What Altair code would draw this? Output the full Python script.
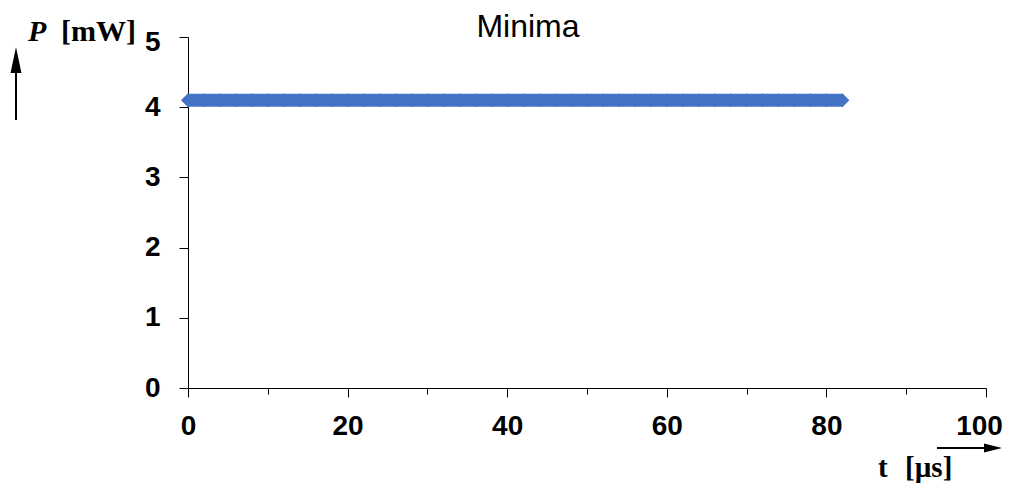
import altair as alt
import pandas as pd

# Data
t_us = [0, 2, 4, 6, 8, 10, 12, 14, 16, 18, 20, 22, 24, 26, 28, 30, 32, 34, 36, 38, 40,
        42, 44, 46, 48, 50, 52, 54, 56, 58, 60, 62, 64, 66, 68, 70, 72, 74, 76, 78, 80, 82]
p_mw = [4.1, 4.1, 4.1, 4.1, 4.1, 4.1, 4.1, 4.1, 4.1, 4.1, 4.1, 4.1, 4.1, 4.1, 4.1, 4.1,
        4.1, 4.1, 4.1, 4.1, 4.1, 4.1, 4.1, 4.1, 4.1, 4.1, 4.1, 4.1, 4.1, 4.1, 4.1, 4.1,
        4.1, 4.1, 4.1, 4.1, 4.1, 4.1, 4.1, 4.1, 4.1, 4.1]
x_ticks = [0, 10, 20, 30, 40, 50, 60, 70, 80, 90, 100]
y_ticks = [0, 0.5, 1, 1.5, 2, 2.5, 3, 3.5, 4, 4.5, 5]
title_text = "Minima"

df = pd.DataFrame({"t": t_us, "P": p_mw})

BLUE = "#4472C4"
SANS = "Liberation Sans, Arial, sans-serif"
SERIF = "Liberation Serif, Times New Roman, serif"

x_enc = alt.X(
    "t:Q",
    title="",
    scale=alt.Scale(domain=[0, 100], nice=False),
    axis=alt.Axis(
        values=x_ticks,
        labelExpr="datum.value % 20 === 0 ? format(datum.value, 'd') : ''",
        tickSize=alt.ExprRef("datum.value % 20 === 0 ? 9 : 6"),
        labelOffset=alt.ExprRef("datum.value === 100 ? -7 : 0"),
        grid=False,
        domainColor="black",
        tickColor="black",
        labelColor="black",
        labelFont=SANS,
        labelFontWeight="bold",
        labelFontSize=28,
        labelPadding=15,
        labelFlush=False,
        labelOverlap=False,
    ),
)
y_enc = alt.Y(
    "P:Q",
    title="",
    scale=alt.Scale(domain=[0, 5], nice=False),
    axis=alt.Axis(
        values=y_ticks,
        labelExpr="datum.value % 1 === 0 ? format(datum.value, 'd') : ''",
        labelOffset=alt.ExprRef("datum.value === 5 ? 5 : 0"),
        tickSize=9,
        grid=False,
        domainColor="black",
        tickColor="black",
        labelColor="black",
        labelFont=SANS,
        labelFontWeight="bold",
        labelFontSize=28,
        labelPadding=19,
        labelFlush=False,
        labelOverlap=False,
    ),
)

base = alt.Chart(df)
line = base.mark_line(color=BLUE, strokeWidth=13).encode(x=x_enc, y=y_enc)
pts = base.mark_point(shape="diamond", filled=True, size=196, color=BLUE, opacity=1).encode(
    x="t:Q", y="P:Q"
)

one = alt.Data(values=[{"k": 1}])

def txt(text, x, y, font, size, weight="normal", style="normal", align="left"):
    return alt.Chart(one).mark_text(
        text=text, font=font, fontSize=size, fontWeight=weight, fontStyle=style,
        align=align, baseline="alphabetic", color="black"
    ).encode(x=alt.value(x), y=alt.value(y))

title = txt(title_text, 340, 0, SANS, 32, align="center")
p_lab = txt("P", -160, 4, SERIF, 30, weight="bold", style="italic")
mw_lab = txt("[mW]", -127, 4, SERIF, 30, weight="bold")
t_lab = txt("t", 690, 440, SERIF, 29, weight="bold")
us_lab = txt("[µs]", 717, 440, SERIF, 29, weight="bold")

up_shaft = alt.Chart(one).mark_rule(color="black", strokeWidth=2).encode(
    x=alt.value(-172), y=alt.value(83), y2=alt.value(34)
)
up_head = alt.Chart(one).mark_point(
    shape="M0,-1L0.42,1L-0.42,1Z", filled=True, color="black", opacity=1, size=676
).encode(x=alt.value(-172), y=alt.value(23))

right_shaft = alt.Chart(one).mark_rule(color="black", strokeWidth=2).encode(
    x=alt.value(749), x2=alt.value(800), y=alt.value(411)
)
right_head = alt.Chart(one).mark_point(
    shape="M1,0L-1,-0.5L-1,0.5Z", filled=True, color="black", opacity=1, size=324
).encode(x=alt.value(805), y=alt.value(411))

chart = alt.layer(
    line, pts, title, p_lab, mw_lab, t_lab, us_lab, up_shaft, up_head, right_shaft, right_head
).properties(
    width=798,
    height=351,
    autosize=alt.AutoSizeParams(type="none"),
    padding={"left": 180, "top": 29, "right": 17, "bottom": 97},
    background="white",
).configure_view(stroke=None)

chart.save("out.html", embed_options={"renderer": "svg", "actions": False})
